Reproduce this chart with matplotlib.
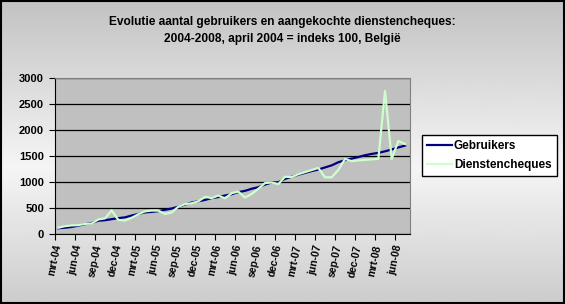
import numpy as np
import matplotlib
matplotlib.use("Agg")
import matplotlib.pyplot as plt

plt.rcParams['font.family'] = ['Liberation Sans', 'DejaVu Sans']
plt.rcParams['font.weight'] = 'bold'

# monthly values, first point = mrt-04 bin (index 100 start)
gebruikers = [110, 120, 135, 160, 190, 210, 255, 265, 285, 305,
              320, 355, 385, 415, 425, 440, 465, 490, 525, 565,
              605, 630, 655, 690, 710, 740, 765, 805, 830, 870,
              900, 950, 990, 995, 1060, 1100, 1140, 1175, 1210, 1240,
              1280, 1320, 1380, 1420, 1450, 1480, 1515, 1540, 1560, 1590,
              1625, 1665, 1700]
dienstencheques = [120, 150, 165, 170, 195, 200, 280, 300, 455, 270,
                   260, 310, 380, 435, 450, 450, 385, 415, 525, 575,
                   590, 630, 715, 690, 740, 685, 785, 815, 700, 770,
                   870, 980, 990, 960, 1100, 1095, 1150, 1190, 1230, 1270,
                   1090, 1090, 1230, 1445, 1400, 1415, 1425, 1435, 1445, 2750,
                   1440, 1790, 1730]
tick_labels = ['mrt-04', 'jun-04', 'sep-04', 'dec-04', 'mrt-05', 'jun-05',
               'sep-05', 'dec-05', 'mrt-06', 'jun-06', 'sep-06', 'dec-06',
               'mrt-07', 'jun-07', 'sep-07', 'dec-07', 'mrt-08', 'jun-08']

fig = plt.figure(figsize=(5.65, 3.04), dpi=100)

# gradient background
bg = fig.add_axes([0, 0, 1, 1], zorder=-5)
t = np.linspace(0, 1, 300)
shade = np.interp(t, [0, 0.55, 1], [0.76, 0.96, 0.80])
grad = np.repeat(shade[:, None], 10, axis=1)
bg.imshow(grad, cmap='gray', vmin=0, vmax=1, aspect='auto', extent=[0, 1, 0, 1], origin='upper')
bg.set_xlim(0, 1)
bg.set_ylim(0, 1)
bg.axis('off')
fig.patches.append(plt.Rectangle((0.002, 0.003), 0.996, 0.994, transform=fig.transFigure,
                                 fill=False, edgecolor='black', linewidth=1.5))

ax = fig.add_axes([0.0973, 0.2303, 0.6284, 0.5131])
ax.set_facecolor('#c0c0c0')

x = np.arange(len(gebruikers)) + 0.5
ax.plot(x, gebruikers, color='#000080', lw=1.6, label='Gebruikers', zorder=3)
ax.plot(x, dienstencheques, color='#ccffcc', lw=1.6, label='Dienstencheques', zorder=4)

ax.set_xlim(0, 53.25)
ax.set_ylim(0, 3000)
ax.set_yticks(range(0, 3001, 500))
ax.set_xticks(np.arange(len(tick_labels)) * 3)
ax.set_xticklabels(tick_labels, rotation=78, fontsize=7.5, fontweight='bold')
ax.tick_params(axis='y', labelsize=8, length=4, direction='out', pad=4)
ax.tick_params(axis='x', length=4, direction='out', pad=3)
for lbl in ax.get_yticklabels():
    lbl.set_fontweight('bold')
ax.grid(axis='y', color='black', lw=0.9)
ax.set_axisbelow(True)
for s in ['top', 'right']:
    ax.spines[s].set_color('#808080')
for s in ['left', 'bottom']:
    ax.spines[s].set_color('black')

fig.text(0.5, 0.926, 'Evolutie aantal gebruikers en aangekochte dienstencheques:',
         ha='center', va='center', fontsize=8.6, fontweight='bold')
fig.text(0.5, 0.873, '2004-2008, april 2004 = indeks 100, België',
         ha='center', va='center', fontsize=8.6, fontweight='bold')

leg = ax.legend(loc='center left', bbox_to_anchor=(0.747, 0.488), bbox_transform=fig.transFigure,
                fancybox=False, framealpha=1, edgecolor='black', fontsize=8.5,
                handlelength=2.1, handletextpad=0.15, borderpad=0.45, labelspacing=0.55,
                borderaxespad=0)
leg.get_frame().set_linewidth(1.0)
for txt in leg.get_texts():
    txt.set_fontweight('bold')

fig.savefig('out.png', dpi=100)
